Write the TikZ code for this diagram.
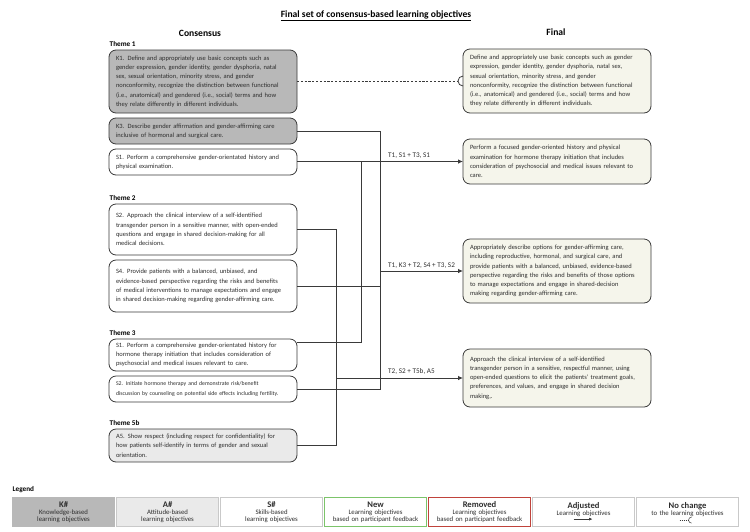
\documentclass[tikz,border=0pt]{standalone}
\usepackage{fontspec}
\setmainfont{Carlito}
\usepackage{xcolor}
\usepackage{tikz}
\usetikzlibrary{arrows.meta,positioning}
\definecolor{kgray}{HTML}{B8B8B8}
\definecolor{agray}{HTML}{EAEAEA}
\definecolor{cream}{HTML}{F5F5EB}
\definecolor{edgegray}{HTML}{3A3A3A}
\definecolor{textgray}{HTML}{2E2E2E}
\definecolor{legendline}{HTML}{C9C9C9}
\definecolor{newgreen}{HTML}{7CC46A}
\definecolor{removedred}{HTML}{C0433B}

\begin{document}
\begin{tikzpicture}[x=1pt, y=-1pt,
    objective/.style={draw=edgegray, line width=0.8pt, rounded corners=7pt, align=left, text width=174pt, inner xsep=7pt, inner ysep=2pt, outer sep=0pt, text=textgray, font=\fontsize{6.5}{9.2}\selectfont},
    kbox/.style={objective, fill=kgray},
    abox/.style={objective, fill=agray},
    sbox/.style={objective, fill=white},
    finalbox/.style={objective, fill=cream},
    theme/.style={font=\bfseries\fontsize{7.2}{8}\selectfont, inner xsep=0.5pt, inner ysep=1pt},
    heading/.style={font=\bfseries\fontsize{9.6}{11}\selectfont},
    route/.style={font=\fontsize{7.2}{8}\selectfont, text=textgray, inner sep=1pt, anchor=south west},
    connector/.style={draw=edgegray, line width=0.8pt},
    legendbox/.style={minimum height=29pt, text width=96pt, inner xsep=3pt, inner ysep=1pt, align=center, anchor=north west, line width=1.1pt, text=textgray, font=\fontsize{6.8}{6.9}\selectfont}
]
    \useasboundingbox (0,0) rectangle (750,531);

        % Headings
        \node (title) [heading] at (376,16) {\underline{Final set of consensus-based learning objectives}};
        \node (consensus) [heading] at (200,33) {Consensus};
        \node (final) [heading] at (556,32) {Final};

        % Nodes
        \node (k1) [kbox, anchor=north west, minimum height=63pt] at (109,50) {K1. Define and appropriately use basic concepts such as\\gender expression, gender identity, gender dysphoria, natal\\sex, sexual orientation, minority stress, and gender\\nonconformity, recognize the distinction between functional\\(i.e., anatomical) and gendered (i.e., social) terms and how\\they relate differently in different individuals.};
        \node (k3) [kbox, below=5pt of k1, minimum height=26pt] {K3. Describe gender affirmation and gender-affirming care\\inclusive of hormonal and surgical care.};
        \node (s1a) [sbox, below=5pt of k3, minimum height=26pt] {S1. Perform a comprehensive gender-orientated history and\\physical examination.};
        \node (s2a) [sbox, below=29pt of s1a, minimum height=51pt] {S2. Approach the clinical interview of a self-identified\\transgender person in a sensitive manner, with open-ended\\questions and engage in shared decision-making for all\\medical decisions.};
        \node (s4) [sbox, below=5pt of s2a, minimum height=52pt] {S4. Provide patients with a balanced, unbiased, and\\evidence-based perspective regarding the risks and benefits\\of medical interventions to manage expectations and engage\\in shared decision-making regarding gender-affirming care.};
        \node (s1b) [sbox, below=27pt of s4, minimum height=32pt] {S1. Perform a comprehensive gender-orientated history for\\hormone therapy initiation that includes consideration of\\psychosocial and medical issues relevant to care.};
        \node (s2b) [sbox, below=5pt of s1b, minimum height=26pt, font=\fontsize{5.8}{9.2}\selectfont] {S2. Initiate hormone therapy and demonstrate risk/benefit\\discussion by counseling on potential side effects including fertility.};
        \node (a5) [abox, below=27pt of s2b, minimum height=33pt] {A5. Show respect (including respect for confidentiality) for\\how patients self-identify in terms of gender and sexual\\orientation.};

        \node (theme1) [theme, above=2pt of k1.north west, anchor=south west] {Theme 1};
        \node (theme2) [theme, above=2pt of s2a.north west, anchor=south west] {Theme 2};
        \node (theme3) [theme, above=2pt of s1b.north west, anchor=south west] {Theme 3};
        \node (theme5b) [theme, above=2pt of a5.north west, anchor=south west] {Theme 5b};

        \node (r1) [finalbox, anchor=north west, minimum height=64pt] at (463,49) {Define and appropriately use basic concepts such as gender\\expression, gender identity, gender dysphoria, natal sex,\\sexual orientation, minority stress, and gender\\nonconformity, recognize the distinction between functional\\(i.e., anatomical) and gendered (i.e., social) terms and how\\they relate differently in different individuals.};
        \node (r2) [finalbox, below=26pt of r1, minimum height=45pt] {Perform a focused gender-oriented history and physical\\examination for hormone therapy initiation that includes\\consideration of psychosocial and medical issues relevant to\\care.};
        \node (r3) [finalbox, below=55pt of r2, minimum height=64pt] {Appropriately describe options for gender-affirming care,\\including reproductive, hormonal, and surgical care, and\\provide patients with a balanced, unbiased, evidence-based\\perspective regarding the risks and benefits of those options\\to manage expectations and engage in shared-decision\\making regarding gender-affirming care.};
        \node (r4) [finalbox, below=46pt of r3, minimum height=58pt] {Approach the clinical interview of a self-identified\\transgender person in a sensitive, respectful manner, using\\open-ended questions to elicit the patients’ treatment goals,\\preferences, and values, and engage in shared decision\\making,.};

        % Buses
        \coordinate (busA) at (336,0);
        \coordinate (busB) at (361,0);
        \coordinate (busC) at (380,0);
        \coordinate (s1bin) at ([yshift=13pt]s1b.east);

        % Arrows
        \draw[connector, dash pattern=on 2.2pt off 1.6pt] (k1.east) -- ([xshift=-5pt]k1.east -| r1.west);
        \draw[connector] ([yshift=5pt]r1.west) arc[start angle=90, end angle=270, radius=5pt];
        \draw[connector] (k3.east) -| (busC |- s2b.east) -- (s2b.east);
        \draw[connector] (s4.east) -- (s4.east -| busC);
        \draw[connector] (s2a.east) -| (busA |- a5.east) -- (a5.east);
        \draw[connector] (s1bin) -| (busB |- s1a.east);
        \foreach \i/\j in {s1a.east/r2, busC/r3, busA/r4} {
            \draw[connector, -{Latex[length=5pt, width=4.5pt]}] (\i |- \j.west) -- (\j.west);
        }

        \node (lab1) [route] at (387,160) {T1, S1 + T3, S1};
        \node (lab2) [route] at (387,270) {T1, K3 + T2, S4 + T3, S2};
        \node (lab3) [route] at (387,376) {T2, S2 + T5b, A5};

        % Legend
        \node (legend) [theme, anchor=west] at (12,490) {Legend};
        \foreach \name/\fillc/\linec/\title/\sub [count=\n from 0] in {
            kleg/kgray/kgray/K\#/{Knowledge-based\\learning objectives},
            aleg/agray/legendline/A\#/{Attitude-based\\learning objectives},
            sleg/white/legendline/S\#/{Skills-based\\learning objectives},
            newleg/white/newgreen/New/{Learning objectives\\based on participant feedback},
            remleg/white/removedred/Removed/{Learning objectives\\based on participant feedback},
            adjleg/white/legendline/Adjusted/{Learning objectives\\~},
            sameleg/white/legendline/No change/{to the learning objectives\\~}} {
            \node (\name) [legendbox, fill=\fillc, draw=\linec] at (12+104*\n,497) {{\bfseries\fontsize{8.6}{6.9}\selectfont\title}\\\sub};
        }
        \draw[connector, line width=0.6pt, -{Latex[length=3.5pt, width=3pt]}] ([xshift=-10pt, yshift=8pt]adjleg.south) -- ([xshift=9pt, yshift=8pt]adjleg.south);
        \draw[connector, line width=0.5pt, dash pattern=on 1pt off 1pt] ([xshift=-8pt, yshift=7pt]sameleg.south) -- ([xshift=1pt, yshift=7pt]sameleg.south);
        \draw[connector, line width=0.5pt] ([xshift=4pt, yshift=10pt]sameleg.south) arc[start angle=90, end angle=270, radius=3pt];

    \end{tikzpicture}
\end{document}
